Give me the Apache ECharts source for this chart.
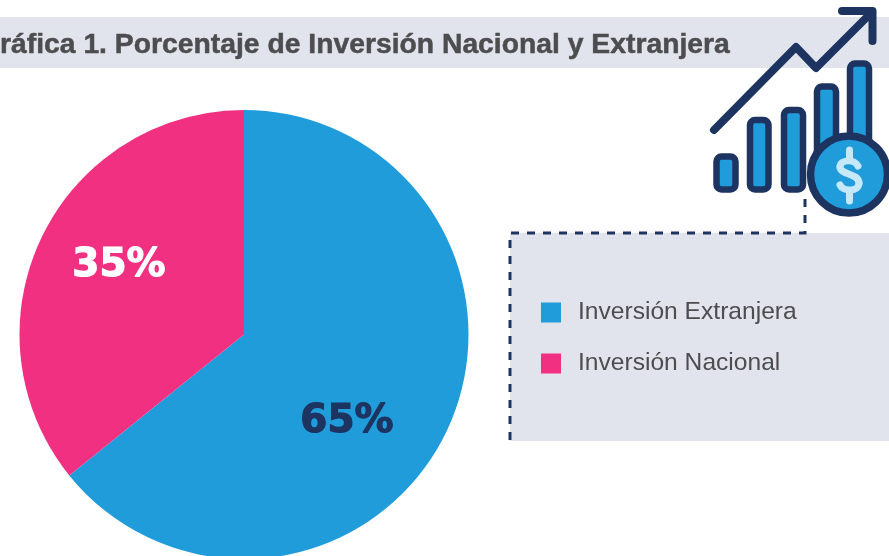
<!DOCTYPE html>
<html>
<head>
<meta charset="utf-8">
<title>Gráfica 1</title>
<script src="https://cdn.jsdelivr.net/npm/echarts@6/dist/echarts.min.js"></script>
<style>
html, body { margin: 0; padding: 0; background: #fff; overflow: hidden; }
#main { width: 889px; height: 556px; }
</style>
</head>
<body>
<div id="main"></div>
<script>
// datos
var categories = ['Inversión Extranjera', 'Inversión Nacional'];
var values = [64.2, 35.8];
var labels = ['65%', '35%'];
var sliceColors = ['#209cdb', '#f13082'];

var navy = '#1d3461';
var blue = '#209cdb';
var panel = '#e1e4ec';
var gray = '#4d4d4f';
var light = '#c5e8fb';

// barras del icono
function iconBar(x, y, w, h) {
    return {
        type: 'rect', z: 5,
        shape: { x: x, y: y, width: w, height: h, r: 5 },
        style: { fill: blue, stroke: navy, lineWidth: 6.5 }
    };
}

// tramo de la S del signo de dolar
function dollarCurve(x1, y1, cpx1, cpy1, cpx2, cpy2, x2, y2) {
    return {
        type: 'bezierCurve', z: 7,
        shape: { x1: x1, y1: y1, cpx1: cpx1, cpy1: cpy1, cpx2: cpx2, cpy2: cpy2, x2: x2, y2: y2 },
        style: { fill: null, stroke: light, lineWidth: 7, lineCap: 'round' }
    };
}

var myChart = echarts.init(document.getElementById('main'));

myChart.setOption({
    animation: false,
    backgroundColor: '#fff',
    title: {
        text: 'Gráfica 1. Porcentaje de Inversión Nacional y Extranjera',
        left: -22,
        top: 31,
        padding: 0,
        textStyle: {
            fontFamily: 'Liberation Sans', fontSize: 28.3, fontWeight: 'bold', color: gray,
            textBorderColor: gray, textBorderWidth: 0.5
        }
    },
    legend: {
        orient: 'vertical',
        left: 536,
        top: 295,
        itemWidth: 20,
        itemHeight: 20,
        itemGap: 26,
        icon: 'rect',
        data: categories,
        textStyle: { fontFamily: 'Liberation Sans', fontSize: 24.6, color: gray, padding: [0, 0, 0, 12] }
    },
    series: [{
        type: 'pie',
        center: [244, 334.5],
        radius: [0, 224.5],
        startAngle: 90,
        clockwise: true,
        silent: true,
        z: 3,
        labelLine: { show: false },
        label: {
            position: 'inside',
            fontFamily: 'DejaVu Sans',
            fontWeight: 'bold',
            fontSize: 39,
            formatter: function (p) { return labels[p.dataIndex]; }
        },
        labelLayout: function (p) {
            return p.dataIndex === 0 ? { x: 347, y: 422 } : { x: 119, y: 266 };
        },
        data: categories.map(function (name, i) {
            var c = i === 0 ? navy : '#fff';
            return {
                name: name,
                value: values[i],
                itemStyle: { color: sliceColors[i] },
                label: { color: c, textBorderColor: c, textBorderWidth: 1.2 }
            };
        })
    }],
    graphic: [
        // franja del titulo y panel de la leyenda
        { type: 'rect', z: -1, shape: { x: 0, y: 17, width: 889, height: 51 }, style: { fill: panel } },
        { type: 'rect', z: -1, shape: { x: 510, y: 233, width: 379, height: 208 }, style: { fill: panel } },
        {
            type: 'polyline', z: 1,
            shape: { points: [[510, 440], [510, 233], [805, 233], [805, 195]] },
            style: { fill: null, stroke: navy, lineWidth: 3, lineDash: [8, 8] }
        },
        // icono: flecha
        {
            type: 'polyline', z: 5,
            shape: { points: [[714, 130], [796, 47], [816, 68], [872, 12]] },
            style: { fill: null, stroke: navy, lineWidth: 8, lineCap: 'round', lineJoin: 'round' }
        },
        {
            type: 'polyline', z: 5,
            shape: { points: [[842, 11], [872.5, 11], [872.5, 41]] },
            style: { fill: null, stroke: navy, lineWidth: 8, lineCap: 'round', lineJoin: 'round' }
        },
        iconBar(716.5, 156.5, 19, 33),
        iconBar(750, 120, 18.5, 69.5),
        iconBar(784, 110, 19, 79.5),
        iconBar(817, 86.5, 19, 80),
        iconBar(850, 63.5, 19, 100),
        // icono: moneda
        {
            type: 'circle', z: 6,
            shape: { cx: 849, cy: 174.5, r: 38.5 },
            style: { fill: blue, stroke: navy, lineWidth: 7.5 }
        },
        dollarCurve(858, 166, 855, 159, 840, 159, 840, 167),
        dollarCurve(840, 167, 840, 175, 859, 173, 859, 183),
        dollarCurve(859, 183, 859, 192, 843, 192, 840, 185),
        {
            type: 'line', z: 7,
            shape: { x1: 849.5, y1: 150, x2: 849.5, y2: 158 },
            style: { stroke: light, lineWidth: 7, lineCap: 'round' }
        },
        {
            type: 'line', z: 7,
            shape: { x1: 849.5, y1: 192, x2: 849.5, y2: 201 },
            style: { stroke: light, lineWidth: 7, lineCap: 'round' }
        }
    ]
});
</script>
</body>
</html>
